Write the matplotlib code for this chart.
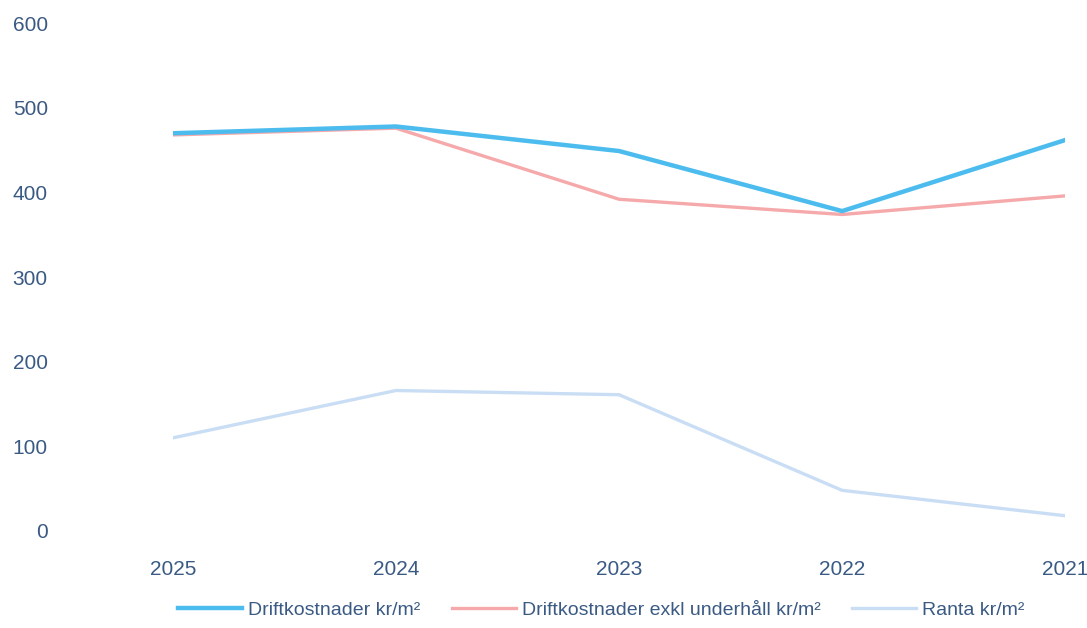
import matplotlib.pyplot as plt

# Kostnader per kvadratmeter, nyaste året först
years = ["2025", "2024", "2023", "2022", "2021"]
drift = [470, 478, 449, 378, 462]
drift_exkl = [468, 476, 392, 374, 396]
ranta = [110, 166, 161, 48, 18]

plt.rcParams["font.family"] = ["Liberation Sans Narrow", "Liberation Sans", "DejaVu Sans"]
text_color = "#3a5a84"

fig = plt.figure(figsize=(10.87, 6.28), dpi=100)
ax = fig.add_axes([0.159, 0.1545, 0.821, 0.8085])

x = range(len(years))
ax.plot(x, drift, color="#4cbcef", linewidth=3.2, label="Driftkostnader kr/m²", zorder=3)
ax.plot(x, drift_exkl, color="#f5a9ab", linewidth=2.4, label="Driftkostnader exkl underhåll kr/m²", zorder=2)
ax.plot(x, ranta, color="#c9def4", linewidth=2.4, label="Ranta kr/m²", zorder=1)

ax.set_xlim(0, len(years) - 1)
ax.set_ylim(0, 600)
ax.set_yticks(range(0, 601, 100))
ax.set_xticks(list(x))
ax.set_xticklabels(years)

for side in ["top", "right", "left", "bottom"]:
    ax.spines[side].set_visible(False)
ax.tick_params(axis="both", length=0, labelsize=15, colors=text_color)
ax.tick_params(axis="x", pad=21)
ax.tick_params(axis="y", pad=90)

fig.legend(loc="center", bbox_to_anchor=(0.553, 0.029), ncol=3, frameon=False,
           fontsize=14, labelcolor=text_color, handlelength=3.3, columnspacing=1.6,
           handletextpad=0.3)

fig.savefig("out.png", dpi=100)
